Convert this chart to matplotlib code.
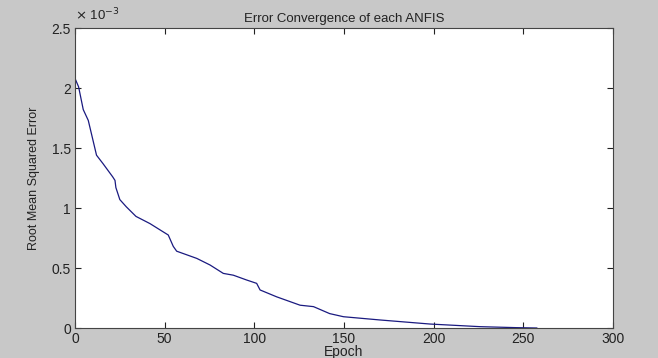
import numpy as np
import matplotlib.pyplot as plt
from matplotlib.ticker import FuncFormatter

plt.rcParams['font.family'] = ['Liberation Sans', 'DejaVu Sans']

# values (RMSE in units of 1e-3)
epoch = [0, 2, 4.6, 7.4, 12, 15.6, 21, 22.3, 22.8, 25, 28.6, 34, 41.8, 49.3, 52,
         54.8, 56.7, 62.3, 67.9, 75.3, 82.7, 88.3, 95.7, 101.3, 103.2, 112.4,
         125.5, 133, 142, 149.7, 170, 198, 226, 246, 257.5]
rmse = [2.08, 2.01, 1.82, 1.73, 1.44, 1.37, 1.26, 1.23, 1.17, 1.07, 1.01, 0.93,
        0.87, 0.80, 0.775, 0.68, 0.64, 0.61, 0.58, 0.525, 0.455, 0.44, 0.40,
        0.372, 0.317, 0.26, 0.19, 0.178, 0.12, 0.094, 0.067, 0.033, 0.011,
        0.003, 0.0]
x_ticks = [0, 50, 100, 150, 200, 250, 300]
y_ticks = [0, 0.5, 1, 1.5, 2, 2.5]

bg = '#c8c8c8'
fig = plt.figure(figsize=(6.58, 3.58), dpi=100, facecolor=bg)
ax = fig.add_axes([75 / 658, 30 / 358, 538 / 658, 300 / 358])
ax.set_facecolor('white')

ax.plot(epoch, rmse, color='#1a1a80', linewidth=0.9)

ax.set_xlim(0, 300)
ax.set_ylim(0, 2.5)
ax.set_xticks(x_ticks)
ax.set_yticks(y_ticks)
ax.yaxis.set_major_formatter(FuncFormatter(lambda v, p: '%g' % v))
ax.tick_params(direction='in', top=True, right=True, length=4, labelsize=10,
               colors='#222222', pad=3)
for s in ax.spines.values():
    s.set_color('#444444')
    s.set_linewidth(0.8)

ax.set_title('Error Convergence of each ANFIS', fontsize=9.5, pad=4, color='#222222')
ax.set_xlabel('Epoch', fontsize=10, labelpad=-1, color='#222222')
ax.set_ylabel('Root Mean Squared Error', fontsize=9, labelpad=8, color='#222222')
ax.text(0, 1.015, r'$\times$ 10$^{-3}$', transform=ax.transAxes, fontsize=9.5,
        ha='left', va='bottom', color='#222222')

fig.savefig('out.png', dpi=100, facecolor=bg)
